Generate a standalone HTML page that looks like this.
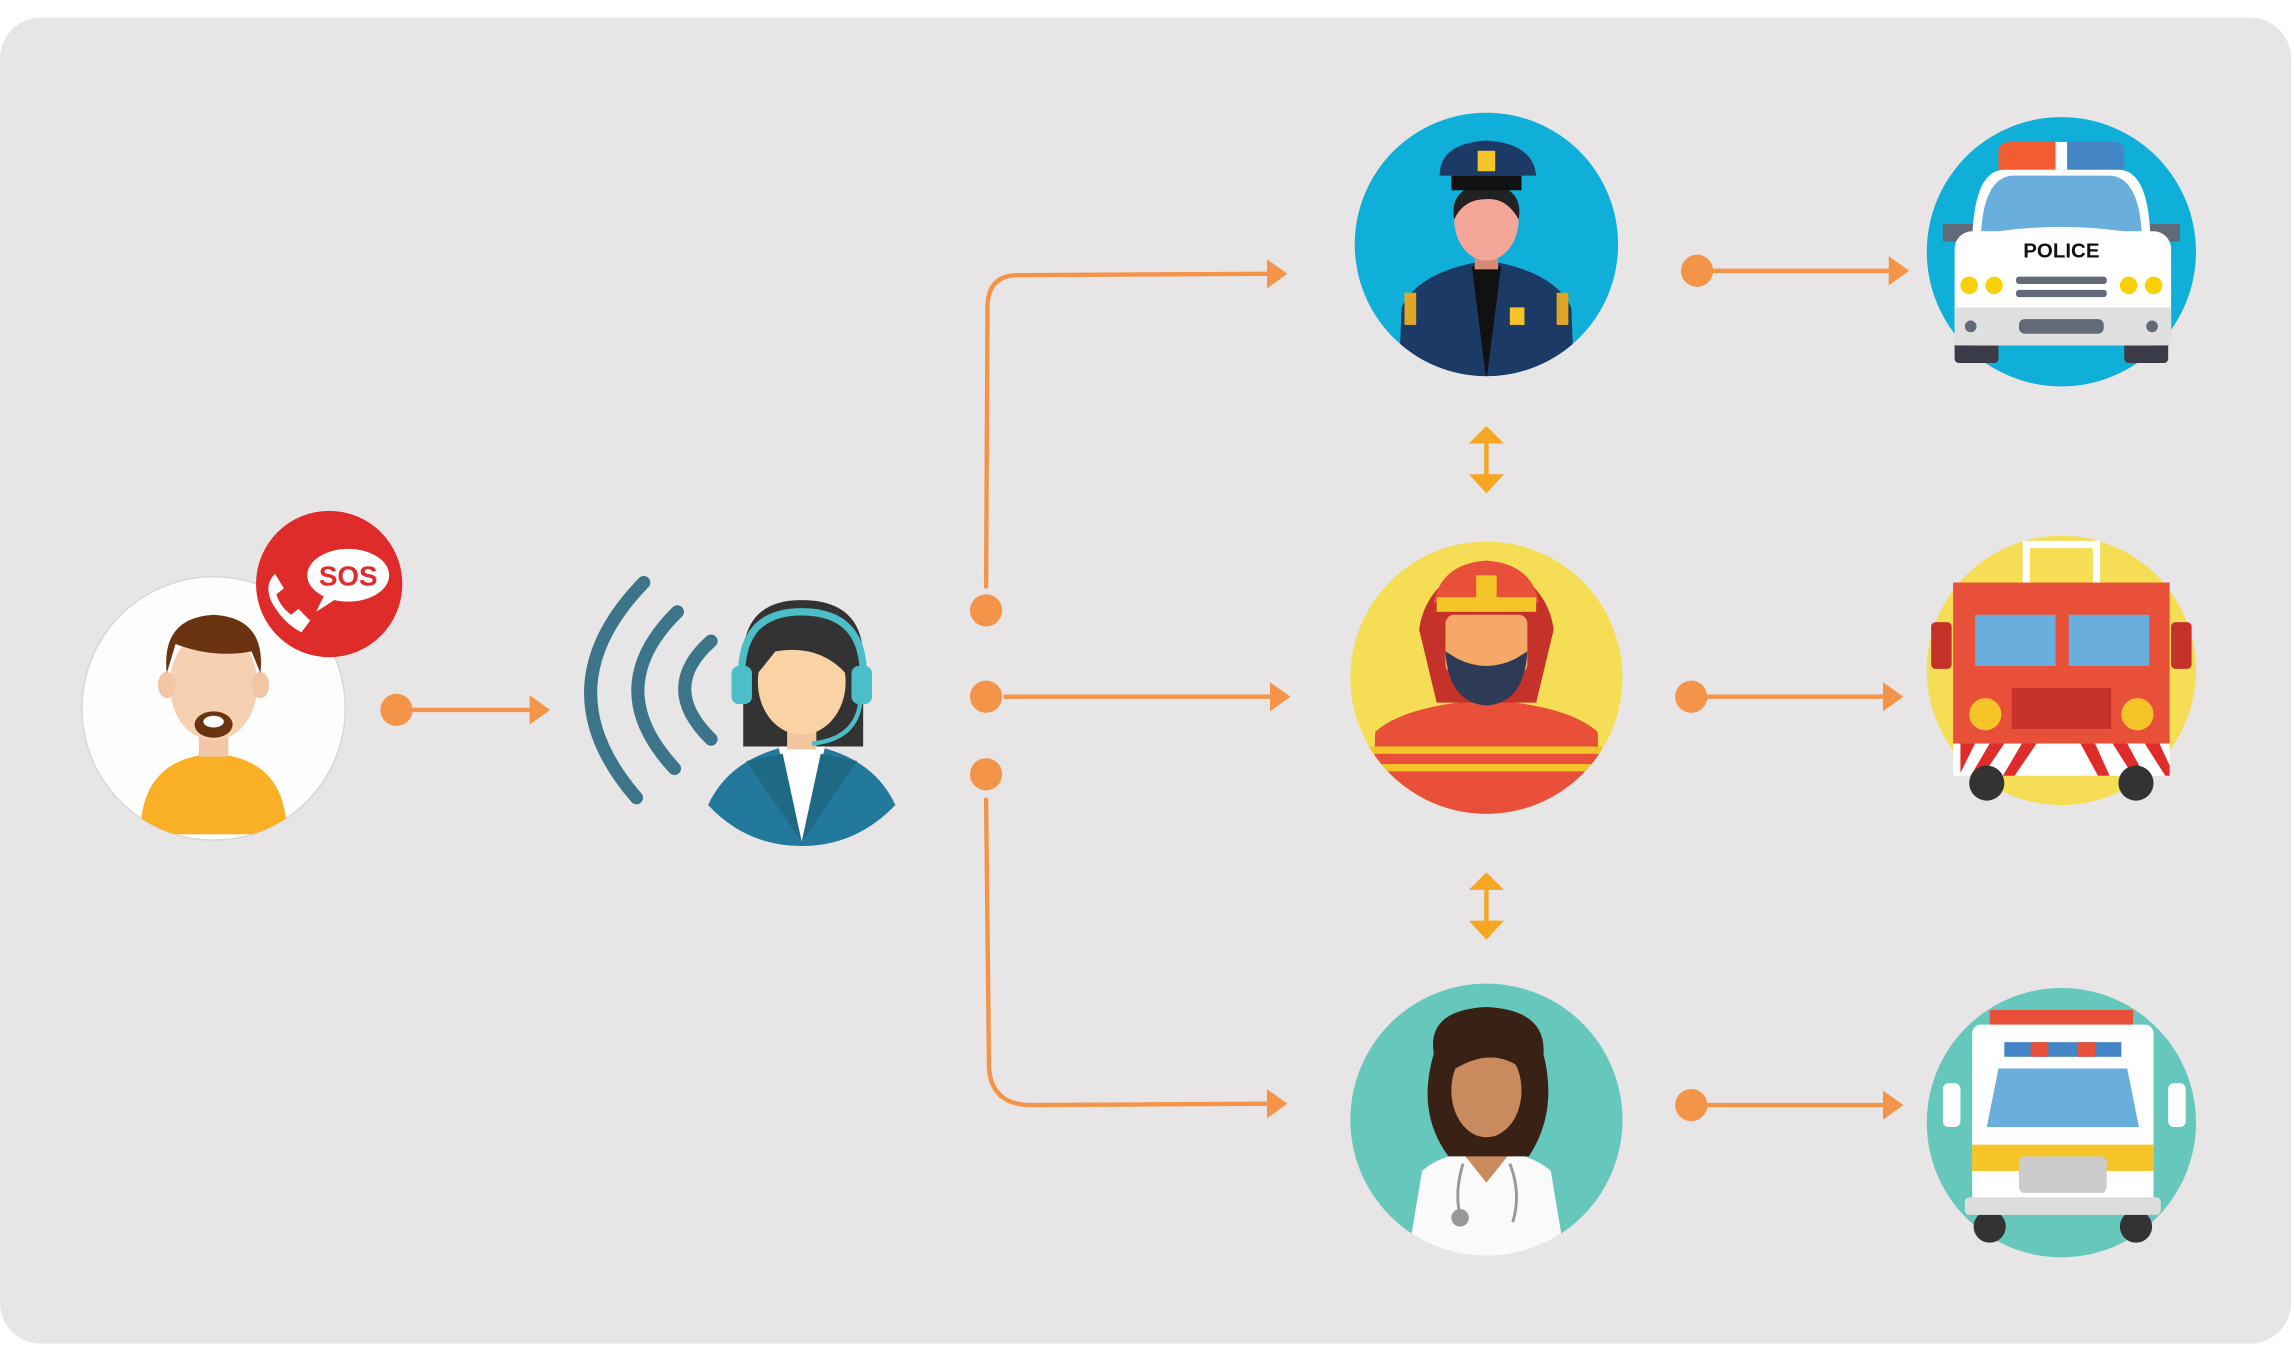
<!DOCTYPE html>
<html><head><meta charset="utf-8"><style>html,body{margin:0;padding:0;background:#fff}svg{display:block}</style></head>
<body>
<svg width="2294" height="1351" viewBox="0 0 1568 923" preserveAspectRatio="none" xmlns="http://www.w3.org/2000/svg">
<defs>
<marker id="ar" markerWidth="14" markerHeight="20" refX="12" refY="10" orient="auto" markerUnits="userSpaceOnUse"><path d="M0,0 L14,10 L0,20 Z" fill="#f39449"/></marker>
<clipPath id="c1"><circle cx="146" cy="484" r="90"/></clipPath>
<clipPath id="cp"><circle cx="1016" cy="167" r="90"/></clipPath>
<clipPath id="cf"><circle cx="1016" cy="463" r="93"/></clipPath>
<clipPath id="cd"><circle cx="1016" cy="765" r="93"/></clipPath>
</defs>
<rect x="0" y="12" width="1566" height="906" rx="28" fill="#e8e5e6"/>
<circle cx="146" cy="484" r="90" fill="#fdfdfd" stroke="#d8d6d6"/>
<g clip-path="url(#c1)">
<path d="M96,570 Q96,518 146,515 Q196,518 196,570 Z" fill="#f9b024"/>
<rect x="136" y="495" width="20" height="22" fill="#f2c5a5"/>
<ellipse cx="146" cy="468" rx="30" ry="38" fill="#f6d0b2"/>
<ellipse cx="114" cy="468" rx="6" ry="9" fill="#f2c5a5"/><ellipse cx="178" cy="468" rx="6" ry="9" fill="#f2c5a5"/>
<path d="M114,460 Q110,422 146,420 Q182,422 178,460 L172,445 Q146,450 120,440 Z" fill="#6b3410"/>
<ellipse cx="146" cy="495" rx="13" ry="9" fill="#6b3410"/><ellipse cx="146" cy="493" rx="7" ry="4" fill="#fff"/>
</g>
<circle cx="225" cy="399" r="50" fill="#e02b2b"/>
<path d="M188,392 q-8,8 -2,20 q8,14 20,20 l6,-8 l-8,-8 l-5,4 q-8,-6 -10,-14 l5,-4 l-6,-10 Z" fill="#fff"/>
<ellipse cx="238" cy="393" rx="28" ry="18" fill="#fff"/>
<path d="M222,406 l-6,12 l14,-9 Z" fill="#fff"/>
<text x="238" y="400" font-family="Liberation Sans, sans-serif" font-weight="bold" font-size="19" fill="#e02b2b" text-anchor="middle">SOS</text>
<circle cx="271" cy="485" r="11" fill="#f39449"/>
<line x1="282" y1="485" x2="374" y2="485" stroke="#f39449" stroke-width="3" marker-end="url(#ar)"/>
<g fill="none" stroke="#3c7489" stroke-width="9" stroke-linecap="round">
<path d="M440,398 Q370,470 435,545"/>
<path d="M463,418 Q410,470 461,525"/>
<path d="M486,438 Q450,470 486,505"/>
</g>
<path d="M484,550 Q500,515 548,508 Q596,515 612,550 Q585,578 548,578 Q510,578 484,550 Z" fill="#23799c"/>
<path d="M532,510 L548,575 L564,510 Z" fill="#fff"/>
<path d="M510,520 L548,575 L535,515 Z M586,520 L548,575 L561,515Z" fill="#1e6986"/>
<path d="M508,450 Q508,410 548,410 Q590,410 590,450 L590,510 L508,510 Z" fill="#333"/>
<rect x="538" y="490" width="20" height="22" fill="#f2c59c"/>
<ellipse cx="548" cy="466" rx="30" ry="36" fill="#f9d3a4"/>
<path d="M518,460 Q515,425 548,425 Q580,425 578,460 Q560,440 530,445 Z" fill="#333"/>
<path d="M507,465 Q505,418 548,418 Q592,418 590,465" fill="none" stroke="#4cbec8" stroke-width="5"/>
<rect x="500" y="455" width="14" height="26" rx="5" fill="#4cbec8"/><rect x="582" y="455" width="14" height="26" rx="5" fill="#4cbec8"/>
<path d="M588,480 Q585,505 555,508" fill="none" stroke="#4cbec8" stroke-width="3"/>
<g fill="none" stroke="#f39449" stroke-width="3">
<path d="M674,402 L675,208 Q676,188 696,188 L878,187" marker-end="url(#ar)"/>
<line x1="686" y1="476" x2="880" y2="476" marker-end="url(#ar)"/>
<path d="M674,545 L676,730 Q678,755 705,755 L878,754" marker-end="url(#ar)"/>
</g>
<circle cx="674" cy="417" r="11" fill="#f39449"/>
<circle cx="674" cy="476" r="11" fill="#f39449"/>
<circle cx="674" cy="529" r="11" fill="#f39449"/>
<circle cx="1016" cy="167" r="90" fill="#0fafd9"/>
<g clip-path="url(#cp)">
<path d="M956,260 L958,210 Q970,185 1016,178 Q1062,185 1074,210 L1076,260 Z" fill="#1b3a66"/>
<path d="M1006,182 L1016,260 L1026,182 Z" fill="#111"/>
<rect x="1008" y="162" width="16" height="22" fill="#d78a78"/>
<ellipse cx="1016" cy="150" rx="22" ry="28" fill="#f4a798"/>
<path d="M994,150 Q990,128 1016,125 Q1042,128 1038,150 Q1030,135 1016,136 Q1000,136 994,150Z" fill="#222"/>
<path d="M984,120 Q984,98 1016,96 Q1048,98 1050,120 Z" fill="#1b3a66"/>
<rect x="992" y="120" width="48" height="10" fill="#111"/>
<rect x="1010" y="103" width="12" height="14" fill="#f5c428"/>
<rect x="960" y="200" width="8" height="22" fill="#e2a626"/><rect x="1064" y="200" width="8" height="22" fill="#e2a626"/>
<rect x="1032" y="210" width="10" height="12" fill="#f5c428"/>
</g>
<circle cx="1016" cy="463" r="93" fill="#f5dd55"/>
<g clip-path="url(#cf)">
<path d="M938,560 L940,500 Q960,482 1016,478 Q1072,482 1092,500 L1094,560 Z" fill="#e8503a"/>
<rect x="935" y="510" width="160" height="5" fill="#f5c428"/><rect x="935" y="522" width="160" height="5" fill="#f5c428"/>
<path d="M970,430 Q975,395 1016,383 Q1057,395 1062,430 L1050,480 L982,480 Z" fill="#c4322a"/>
<path d="M980,412 Q985,385 1016,383 Q1047,385 1052,412 Z" fill="#e8503a"/>
<rect x="982" y="408" width="68" height="10" fill="#f5c428"/>
<rect x="1009" y="393" width="14" height="16" fill="#f5c428"/>
<rect x="988" y="420" width="56" height="40" rx="6" fill="#f6a868"/>
<path d="M988,445 Q990,480 1016,482 Q1042,480 1044,445 L1036,450 Q1016,460 996,450 Z" fill="#2d3b57"/>
</g>
<circle cx="1016" cy="765" r="93" fill="#66c7bd"/>
<g clip-path="url(#cd)">
<path d="M962,860 L972,800 Q985,788 1016,785 Q1047,788 1060,800 L1070,860 Z" fill="#fafafa"/>
<path d="M1000,788 L1016,808 L1032,788 Z" fill="#c98a5e"/>
<path d="M980,720 Q975,690 1016,688 Q1057,690 1055,720 Q1065,760 1045,790 L990,790 Q968,760 980,720 Z" fill="#3a2115"/>
<ellipse cx="1016" cy="745" rx="24" ry="32" fill="#c98a5e"/>
<path d="M995,730 Q1000,705 1016,705 Q1035,705 1040,730 Q1020,715 995,730Z" fill="#3a2115"/>
<path d="M1000,795 Q994,815 998,830 M1032,795 Q1040,815 1034,835" fill="none" stroke="#999" stroke-width="2"/>
<circle cx="998" cy="832" r="6" fill="#999"/>
</g>
<g stroke="#f6a623" stroke-width="3" fill="#f6a623">
<line x1="1016" y1="300" x2="1016" y2="326"/><path d="M1004,303 L1016,291 L1028,303Z" stroke="none"/><path d="M1004,324 L1016,337 L1028,324Z" stroke="none"/>
<line x1="1016" y1="606" x2="1016" y2="630"/><path d="M1004,608 L1016,596 L1028,608Z" stroke="none"/><path d="M1004,629 L1016,642 L1028,629Z" stroke="none"/>
</g>
<g fill="#f39449"><circle cx="1160" cy="185" r="11"/><circle cx="1156" cy="476" r="11"/><circle cx="1156" cy="755" r="11"/></g>
<g stroke="#f39449" stroke-width="3">
<line x1="1171" y1="185" x2="1303" y2="185" marker-end="url(#ar)"/>
<line x1="1167" y1="476" x2="1299" y2="476" marker-end="url(#ar)"/>
<line x1="1167" y1="755" x2="1299" y2="755" marker-end="url(#ar)"/>
</g>
<circle cx="1409" cy="172" r="92" fill="#0fafd9"/>
<path d="M1366,103 Q1366,97 1375,97 L1405,97 L1405,116 L1366,116 Z" fill="#f25c30"/>
<rect x="1405" y="97" width="8" height="19" fill="#fff"/>
<path d="M1413,97 L1445,97 Q1452,97 1452,103 L1452,116 L1413,116 Z" fill="#4385c5"/>
<rect x="1328" y="153" width="28" height="12" fill="#626a78"/><rect x="1462" y="153" width="28" height="12" fill="#626a78"/>
<rect x="1336" y="230" width="30" height="18" rx="3" fill="#3a3b46"/><rect x="1452" y="230" width="30" height="18" rx="3" fill="#3a3b46"/>
<path d="M1348,170 Q1348,116 1370,116 L1448,116 Q1470,116 1470,170 Z" fill="#fff"/>
<path d="M1354,160 Q1356,122 1375,120 L1443,120 Q1462,122 1464,160 Q1409,150 1354,160Z" fill="#6aaede"/>
<rect x="1336" y="158" width="148" height="78" rx="12" fill="#fff"/>
<rect x="1336" y="210" width="148" height="26" fill="#e0e0e0"/>
<text x="1409" y="176" font-family="Liberation Sans, sans-serif" font-weight="bold" font-size="14" text-anchor="middle" fill="#111">POLICE</text>
<rect x="1378" y="189" width="62" height="5" rx="2" fill="#626a78"/><rect x="1378" y="198" width="62" height="5" rx="2" fill="#626a78"/>
<g fill="#f8d10a"><circle cx="1346" cy="195" r="6"/><circle cx="1363" cy="195" r="6"/><circle cx="1455" cy="195" r="6"/><circle cx="1472" cy="195" r="6"/></g>
<rect x="1380" y="218" width="58" height="10" rx="4" fill="#626a78"/>
<circle cx="1347" cy="223" r="4" fill="#626a78"/><circle cx="1471" cy="223" r="4" fill="#626a78"/>
<circle cx="1409" cy="458" r="92" fill="#f5dd55"/>
<rect x="1385" y="372" width="48" height="30" fill="none" stroke="#fff" stroke-width="5"/>
<rect x="1335" y="398" width="148" height="110" fill="#e8503a"/>
<rect x="1320" y="425" width="14" height="32" rx="3" fill="#c4322a"/><rect x="1484" y="425" width="14" height="32" rx="3" fill="#c4322a"/>
<rect x="1350" y="420" width="55" height="35" fill="#6aaede"/><rect x="1414" y="420" width="55" height="35" fill="#6aaede"/>
<rect x="1375" y="470" width="68" height="28" fill="#c4322a"/>
<circle cx="1357" cy="488" r="11" fill="#f5c428"/><circle cx="1461" cy="488" r="11" fill="#f5c428"/>
<rect x="1335" y="508" width="148" height="22" fill="#fff"/>
<g fill="#e02b2b"><path d="M1340,508 l10,0 l-10,20z M1360,508 l10,0 l-15,22 l-8,0z M1382,508 l10,0 l-15,22 l-8,0z M1422,508 l10,0 l10,22 l-8,0z M1444,508 l10,0 l12,22 l-8,0z M1466,508 l10,0 l7,15 l0,7 l-3,0z"/></g>
<circle cx="1358" cy="535" r="12" fill="#333"/><circle cx="1460" cy="535" r="12" fill="#333"/>
<circle cx="1409" cy="767" r="92" fill="#66c7bd"/>
<rect x="1360" y="690" width="98" height="12" fill="#e8503a"/>
<circle cx="1360" cy="838" r="11" fill="#333"/><circle cx="1460" cy="838" r="11" fill="#333"/>
<rect x="1348" y="700" width="124" height="122" rx="6" fill="#fff"/>
<rect x="1328" y="740" width="12" height="30" rx="4" fill="#fff"/><rect x="1482" y="740" width="12" height="30" rx="4" fill="#fff"/>
<rect x="1370" y="712" width="80" height="10" fill="#4385c5"/><rect x="1388" y="712" width="12" height="10" fill="#e8503a"/><rect x="1420" y="712" width="12" height="10" fill="#e8503a"/>
<path d="M1358,770 L1366,730 L1454,730 L1462,770 Z" fill="#6aaede"/>
<rect x="1348" y="782" width="124" height="18" fill="#f5c428"/>
<rect x="1380" y="790" width="60" height="25" rx="4" fill="#ccc"/>
<rect x="1343" y="818" width="134" height="12" rx="3" fill="#ddd"/>
</svg>
</body></html>
